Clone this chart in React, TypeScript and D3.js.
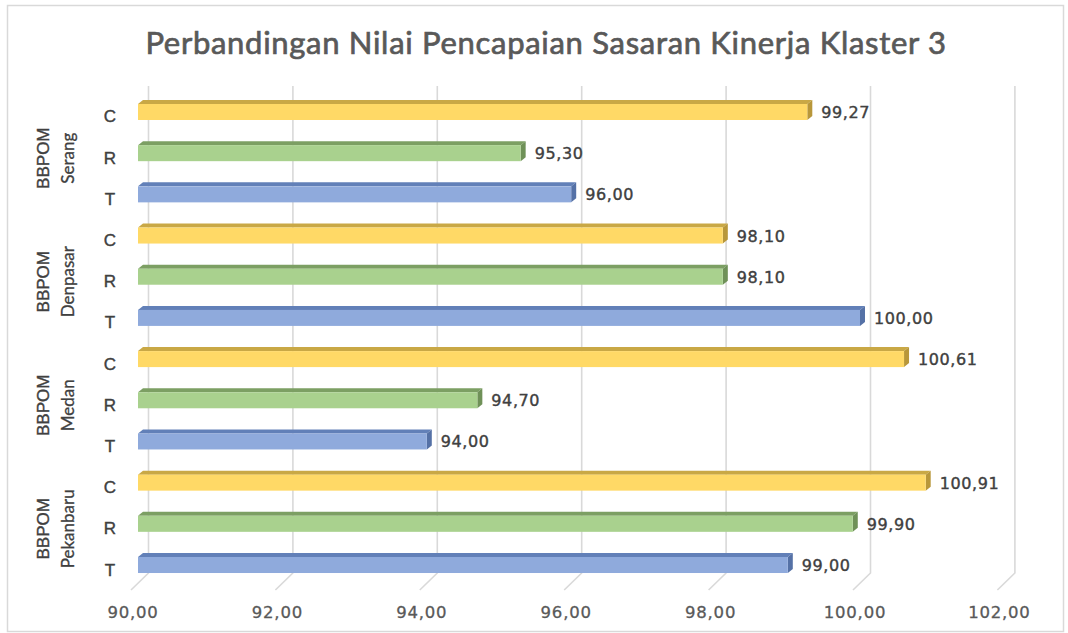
import React from "react";
import * as d3 from "d3";

const title = "Perbandingan Nilai Pencapaian Sasaran Kinerja Klaster 3";
const groupTop = ["BBPOM", "BBPOM", "BBPOM", "BBPOM"];
const groupBottom = ["Serang", "Denpasar", "Medan", "Pekanbaru"];
const seriesKeys = ["C", "R", "T"];
const valuesC = [99.27, 98.1, 100.61, 100.91];
const valuesR = [95.3, 98.1, 94.7, 99.9];
const valuesT = [96.0, 100.0, 94.0, 99.0];
const xTicks = [90, 92, 94, 96, 98, 100, 102];

const W = 1068;
const H = 633;

const palette: Record<string, { front: string; top: string; side: string }> = {
  C: { front: "#ffd966", top: "#c9a845", side: "#b8973a" },
  R: { front: "#a9d18e", top: "#7c9f63", side: "#6f9158" },
  T: { front: "#8faadc", top: "#6280b8", side: "#5571a6" },
};

const fmt = (v: number) => v.toFixed(2).replace(".", ",");

export default function App() {
  const rows: { key: string; s: string; g: number; v: number }[] = [];
  groupBottom.forEach((_, gi) => {
    const vals = [valuesC[gi], valuesR[gi], valuesT[gi]];
    seriesKeys.forEach((s, si) => {
      rows.push({ key: `${gi}-${s}`, s, g: gi, v: vals[si] });
    });
  });

  const x = d3.scaleLinear().domain([90, 102]).range([138, 1004.4]);
  const y = d3
    .scaleBand<string>()
    .domain(rows.map((r) => r.key))
    .range([91.4, 585.6])
    .padding(0);
  const barH = 16;
  const dx = 5;
  const dy = -4;
  const backOff = 10.5;
  const floorOff = -7;
  const gridTop = 86;
  const gridBottom = 573;
  const floorY = 590;

  const center = (k: string) => (y(k) as number) + y.bandwidth() / 2;

  return (
    <div style={{ position: "fixed", left: 0, top: 0 }}>
      <svg width={W} height={H} style={{ display: "block", background: "#fff" }}>
        <rect x={7.5} y={5.5} width={1056} height={626} fill="#fff" stroke="#d9d9d9" strokeWidth={1.5} />
        <text
          x={546}
          y={54}
          textAnchor="middle"
          fontFamily="Lato, 'Open Sans', sans-serif"
          fontSize={31}
          letterSpacing={0.7}
          fill="#595959"
          stroke="#595959"
          strokeWidth={0.7}
        >
          {title}
        </text>
        {xTicks.map((t) => (
          <g key={t}>
            <path
              d={`M${x(t) + backOff},${gridTop} L${x(t) + backOff},${gridBottom} L${x(t) + floorOff},${floorY}`}
              fill="none"
              stroke="#d9d9d9"
              strokeWidth={1.6}
            />
            <text
              x={x(t) - 5}
              y={618}
              textAnchor="middle"
              fontFamily="'DejaVu Sans', sans-serif"
              fontSize={16.5}
              letterSpacing={0.8}
              fill="#595959"
              stroke="#595959"
              strokeWidth={0.3}
            >
              {fmt(t)}
            </text>
          </g>
        ))}
        {rows.map((r) => {
          const c = center(r.key);
          const y0 = c - barH / 2;
          const y1 = c + barH / 2;
          const x0 = x(90);
          const x1 = x(r.v);
          const col = palette[r.s];
          return (
            <g key={r.key}>
              <polygon
                points={`${x0},${y0} ${x1},${y0} ${x1 + dx},${y0 + dy} ${x0 + dx},${y0 + dy}`}
                fill={col.top}
              />
              <polygon
                points={`${x1},${y0} ${x1 + dx},${y0 + dy} ${x1 + dx},${y1 + dy} ${x1},${y1}`}
                fill={col.side}
              />
              <rect x={x0} y={y0} width={x1 - x0} height={barH} fill={col.front} />
              <text
                x={x1 + 14}
                y={c + 6}
                fontFamily="'DejaVu Sans', sans-serif"
                fontSize={16}
                letterSpacing={0.6}
                fill="#404040"
                stroke="#404040"
                strokeWidth={0.4}
              >
                {fmt(r.v)}
              </text>
              <text
                x={110}
                y={c + 5}
                textAnchor="middle"
                dominantBaseline="central"
                fontFamily="'Liberation Sans', Arial, sans-serif"
                fontSize={17}
                fill="#404040"
                stroke="#404040"
                strokeWidth={0.4}
              >
                {r.s}
              </text>
            </g>
          );
        })}
        {groupBottom.map((name, gi) => {
          const cy = center(`${gi}-R`) + 5;
          return (
            <g key={name}>
              <text
                transform={`translate(43,${cy}) rotate(-90)`}
                textAnchor="middle"
                dominantBaseline="central"
                fontFamily="'Liberation Sans', Arial, sans-serif"
                fontSize={17}
                fill="#404040"
                stroke="#404040"
                strokeWidth={0.4}
              >
                {groupTop[gi]}
              </text>
              <text
                transform={`translate(67,${cy}) rotate(-90)`}
                textAnchor="middle"
                dominantBaseline="central"
                fontFamily="Lato, 'Open Sans', sans-serif"
                fontSize={17}
                fill="#404040"
                stroke="#404040"
                strokeWidth={0.3}
              >
                {name}
              </text>
            </g>
          );
        })}
      </svg>
    </div>
  );
}
